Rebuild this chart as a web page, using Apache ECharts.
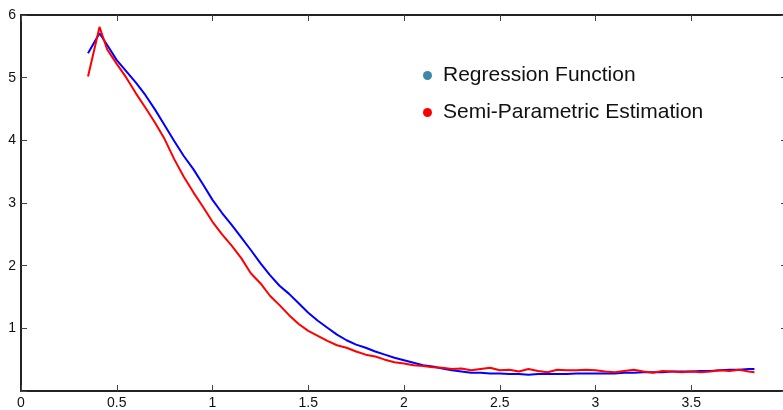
<!DOCTYPE html>
<html>
<head>
<meta charset="utf-8">
<script src="https://cdn.jsdelivr.net/npm/echarts@6/dist/echarts.min.js"></script>
<style>
  html, body { margin: 0; padding: 0; background: #fff; }
  #chart { width: 783px; height: 410px; }
</style>
</head>
<body>
<div id="chart"></div>
<script>
// shared x positions for both curves
const xs = [0.35, 0.41, 0.45, 0.50, 0.55, 0.60, 0.65, 0.70, 0.75, 0.80, 0.85, 0.90, 0.95,
  1.00, 1.05, 1.10, 1.15, 1.20, 1.25, 1.30, 1.35, 1.40, 1.45, 1.50, 1.55, 1.60, 1.65,
  1.70, 1.75, 1.80, 1.85, 1.90, 1.95, 2.00, 2.05, 2.10, 2.15, 2.20, 2.25, 2.30, 2.35,
  2.40, 2.45, 2.50, 2.55, 2.60, 2.65, 2.70, 2.75, 2.80, 2.85, 2.90, 2.95, 3.00, 3.05,
  3.10, 3.15, 3.20, 3.25, 3.30, 3.35, 3.40, 3.45, 3.50, 3.55, 3.60, 3.65, 3.70, 3.75,
  3.80, 3.83];

const regression = [5.39, 5.71, 5.52, 5.28, 5.10, 4.92, 4.72, 4.49, 4.24, 3.99, 3.75, 3.54, 3.30,
  3.05, 2.84, 2.65, 2.45, 2.25, 2.04, 1.85, 1.68, 1.55, 1.40, 1.25, 1.12, 1.01, 0.90,
  0.81, 0.74, 0.69, 0.63, 0.58, 0.53, 0.49, 0.45, 0.41, 0.39, 0.36, 0.33, 0.31, 0.29,
  0.29, 0.28, 0.28, 0.27, 0.27, 0.26, 0.27, 0.27, 0.27, 0.27, 0.28, 0.28, 0.28, 0.28,
  0.28, 0.29, 0.29, 0.30, 0.30, 0.30, 0.31, 0.31, 0.31, 0.32, 0.32, 0.33, 0.34, 0.34,
  0.35, 0.35];

const semiParam = [5.02, 5.81, 5.45, 5.22, 5.00, 4.75, 4.52, 4.28, 4.02, 3.70, 3.42, 3.17, 2.94,
  2.70, 2.50, 2.32, 2.12, 1.88, 1.72, 1.52, 1.37, 1.21, 1.07, 0.96, 0.88, 0.80, 0.73,
  0.69, 0.63, 0.58, 0.55, 0.50, 0.46, 0.44, 0.41, 0.40, 0.38, 0.37, 0.35, 0.36, 0.33,
  0.35, 0.37, 0.33, 0.34, 0.31, 0.35, 0.32, 0.30, 0.34, 0.33, 0.33, 0.34, 0.33, 0.31,
  0.30, 0.32, 0.34, 0.31, 0.29, 0.32, 0.31, 0.30, 0.31, 0.30, 0.31, 0.33, 0.32, 0.34,
  0.31, 0.30];

const seriesNames = ['Regression Function', 'Semi-Parametric Estimation'];

const pairs = ys => xs.map((x, i) => [x, ys[i]]);

const font = 'Liberation Sans, Arial, sans-serif';
const axisLine = { show: true, onZero: false, lineStyle: { color: '#222', width: 2 } };
const tickIn = { show: true, inside: true, length: 6, lineStyle: { color: '#444', width: 1 } };

const option = {
  animation: false,
  backgroundColor: '#fff',
  grid: { left: 21, top: 15, width: 766, bottom: 19, containLabel: false, outerBoundsMode: 'none' },
  legend: {
    orient: 'vertical',
    left: 418,
    top: 60,
    itemGap: 16,
    icon: 'circle',
    itemWidth: 9,
    itemHeight: 9,
    textStyle: { fontFamily: font, fontSize: 21, color: '#111', padding: [0, 0, 0, 6] },
    data: [
      { name: seriesNames[0], itemStyle: { color: '#3a8aa6' } },
      { name: seriesNames[1], itemStyle: { color: '#ff0000' } }
    ]
  },
  xAxis: [
    {
      type: 'value', min: 0, max: 4, interval: 0.5, position: 'bottom',
      axisLine: axisLine, axisTick: tickIn, splitLine: { show: false },
      axisLabel: { fontFamily: font, fontSize: 14, color: '#111', margin: 5 }
    },
    {
      type: 'value', min: 0, max: 4, interval: 0.5, position: 'top',
      axisLine: axisLine, axisTick: tickIn, splitLine: { show: false },
      axisLabel: { show: false }
    }
  ],
  yAxis: [
    {
      type: 'value', min: 0, max: 6, interval: 1, position: 'left',
      axisLine: axisLine, axisTick: tickIn, splitLine: { show: false },
      axisLabel: {
        fontFamily: font, fontSize: 14, color: '#111', margin: 5,
        formatter: v => (v === 0 ? '' : String(v))
      }
    },
    {
      type: 'value', min: 0, max: 6, interval: 1, position: 'right',
      axisLine: axisLine, axisTick: tickIn, splitLine: { show: false },
      axisLabel: { show: false }
    }
  ],
  series: [
    {
      name: seriesNames[0], type: 'line', data: pairs(regression),
      showSymbol: false, symbol: 'none',
      lineStyle: { color: '#0000ff', width: 2 }, itemStyle: { color: '#0000ff' }, z: 2
    },
    {
      name: seriesNames[1], type: 'line', data: pairs(semiParam),
      showSymbol: false, symbol: 'none',
      lineStyle: { color: '#ff0000', width: 2 }, itemStyle: { color: '#ff0000' }, z: 3
    }
  ]
};

const chart = echarts.init(document.getElementById('chart'));
chart.setOption(option);
</script>
</body>
</html>
